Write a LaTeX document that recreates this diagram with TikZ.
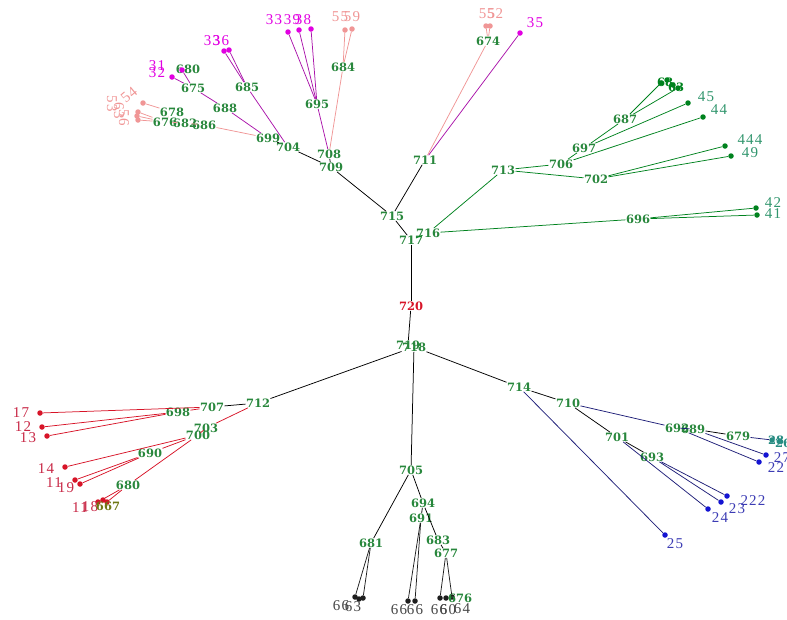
\documentclass[tikz,border=0pt]{standalone}
\usepackage{fontspec}
\setmainfont{Liberation Serif}
\newfontfamily\wideserif[LetterSpace=8]{Liberation Serif}
\newfontfamily\inodefont{DejaVu Serif}
\definecolor{ig}{RGB}{40,135,60}
\definecolor{cred}{RGB}{215,20,40}
\definecolor{credl}{RGB}{200,40,70}
\definecolor{cpink}{RGB}{240,150,150}
\definecolor{cmag}{RGB}{225,0,225}
\definecolor{cmagl}{RGB}{170,20,170}
\definecolor{cgrn}{RGB}{0,130,30}
\definecolor{cgl}{RGB}{50,150,110}
\definecolor{cblue}{RGB}{20,20,210}
\definecolor{cbl}{RGB}{60,60,180}
\definecolor{cbln}{RGB}{30,30,120}
\definecolor{cblk}{RGB}{30,30,30}
\definecolor{cgray}{RGB}{70,70,70}
\definecolor{cteal}{RGB}{40,140,130}
\begin{document}
\begin{tikzpicture}[x=1pt,y=-1pt,
  inode/.style={font=\inodefont\fontsize{11.5}{11.5}\selectfont\bfseries, text=ig, inner sep=0.3pt},
  dot/.style={circle, fill=#1, inner sep=0pt, minimum size=5.5pt},
  lab/.style={font=\wideserif\fontsize{15}{15}\selectfont, text=#1, inner sep=0pt},
  ed/.style={draw=#1, line width=0.75pt}]
\useasboundingbox (0,0) rectangle (787,619);
% ---------- internal nodes ----------
\node[inode] (n720) at (411,306) {\textcolor{cred}{720}};
\node[inode] (n717) at (411,240) {717};
\node[inode] (n716) at (428,233) {716};
\node[inode] (n715) at (392,216) {715};
\node[inode] (n711) at (425,160) {711};
\node[inode] (n674) at (488,41) {674};
\node[inode] (n709) at (331,167) {709};
\node[inode] (n708) at (329,154) {708};
\node[inode] (n704) at (288,147) {704};
\node[inode] (n699) at (268,138) {699};
\node[inode] (n695) at (317,104) {695};
\node[inode] (n684) at (343,67) {684};
\node[inode] (n685) at (247,87) {685};
\node[inode] (n688) at (225,108) {688};
\node[inode] (n675) at (193,88) {675};
\node[inode] (n680t) at (188,69) {680};
\node[inode] (n678) at (172,112) {678};
\node[inode] (n676) at (165,122) {676};
\node[inode] (n682) at (185,123) {682};
\node[inode] (n686) at (204,125) {686};
\node[inode] (n713) at (503,170) {713};
\node[inode] (n706) at (561,164) {706};
\node[inode] (n697) at (584,148) {697};
\node[inode] (n687) at (625,119) {687};
\node[inode] (n702) at (596,179) {702};
\node[inode] (n696) at (638,219) {696};
\node[inode] (n719) at (408,345) {719};
\node[inode] (n718) at (414,347) {718};
\node[inode] (n712) at (258,403) {712};
\node[inode] (n707) at (212,407) {707};
\node[inode] (n698) at (178,412) {698};
\node[inode] (n703) at (206,428) {703};
\node[inode] (n700) at (198,435) {700};
\node[inode] (n690) at (150,453) {690};
\node[inode] (n680) at (128,485) {680};
\node[inode] (n714) at (519,387) {714};
\node[inode] (n710) at (568,403) {710};
\node[inode] (n701) at (617,437) {701};
\node[inode] (n693) at (652,457) {693};
\node[inode] (n692) at (677,428) {692};
\node[inode] (n689) at (693,429) {689};
\node[inode] (n679) at (738,436) {679};
\node[inode] (n705) at (411,470) {705};
\node[inode] (n694) at (423,503) {694};
\node[inode] (n691) at (421,518) {691};
\node[inode] (n683) at (438,540) {683};
\node[inode] (n681) at (371,543) {681};
\node[inode] (n677) at (446,553) {677};
% ---------- leaves: magenta / pink ----------
\node[dot=cmag] (l35) at (520,33) {};
\node[lab=cmag] at (535,23) {35};
\node[dot=cpink] (l55a) at (486,26) {};
\node[dot=cpink] (l52) at (490,26) {};
\node[lab=cpink] at (487,14) {55};
\node[lab=cpink] at (495,14) {52};
\node[dot=cpink] (l55b) at (345,30) {};
\node[dot=cpink] (l59) at (352,29) {};
\node[lab=cpink] at (340,17) {55};
\node[lab=cpink] at (352,17) {59};
\node[dot=cmag] (l33a) at (288,32) {};
\node[dot=cmag] (l39) at (299,30) {};
\node[dot=cmag] (l38) at (311,29) {};
\node[lab=cmag] at (274,20) {33};
\node[lab=cmag] at (292,20) {39};
\node[lab=cmag] at (303,20) {38};
\node[dot=cmag] (l33b) at (224,51) {};
\node[dot=cmag] (l36) at (229,50) {};
\node[lab=cmag] at (212,41) {33};
\node[lab=cmag] at (221,41) {36};
\node[dot=cmag] (l31) at (182,70) {};
\node[dot=cmag] (l32) at (172,77) {};
\node[lab=cmag] at (157,66) {31};
\node[lab=cmag] at (157,73) {32};
\node[dot=cpink] (l54) at (143,103) {};
\node[lab=cpink, rotate=40] at (129,95) {54};
\node[dot=cpink] (l53) at (138,112) {};
\node[dot=cpink] (l63) at (137,116) {};
\node[dot=cpink] (l56) at (138,120) {};
\node[lab=cpink, rotate=-90] at (112,104) {53};
\node[lab=cpink, rotate=-90] at (119,111) {63};
\node[lab=cpink, rotate=-90] at (124,118) {56};
% ---------- leaves: green ----------
\node[dot=cgrn] (l45) at (688,103) {};
\node[lab=cgl] at (706,97) {45};
\node[dot=cgrn] (l44) at (703,117) {};
\node[lab=cgl] at (719,110) {44};
\node[dot=cgrn] (l444) at (725,146) {};
\node[lab=cgl] at (750,140) {444};
\node[dot=cgrn] (l49) at (731,156) {};
\node[lab=cgl] at (750,153) {49};
\node[dot=cgrn] (l42) at (756,208) {};
\node[lab=cgl] at (773,203) {42};
\node[dot=cgrn] (l41) at (757,215) {};
\node[lab=cgl] at (773,214) {41};
\node[dot=cgrn] (g1) at (661,83) {};
\node[dot=cgrn] (g2) at (667,80) {};
\node[dot=cgrn] (g3) at (673,85) {};
\node[dot=cgrn] (g4) at (678,88) {};
\node[inode, text=cgrn] at (665,82) {68};
\node[inode, text=cgrn] at (676,87) {63};
% ---------- leaves: red ----------
\node[dot=cred] (l17) at (40,413) {};
\node[lab=credl] at (21,413) {17};
\node[dot=cred] (l12) at (42,427) {};
\node[lab=credl] at (23,427) {12};
\node[dot=cred] (l13) at (47,436) {};
\node[lab=credl] at (28,438) {13};
\node[dot=cred] (l14) at (65,467) {};
\node[lab=credl] at (46,469) {14};
\node[dot=cred] (l11) at (75,480) {};
\node[dot=cred] (l19) at (80,484) {};
\node[lab=credl] at (54,483) {11};
\node[lab=credl] at (66,488) {19};
\node[dot=cred] (r1) at (98,502) {};
\node[dot=cred] (r2) at (103,500) {};
\node[dot=cred] (r3) at (107,502) {};
\node[lab=credl] at (80,508) {11};
\node[lab=credl] at (90,507) {18};
\node[inode, text={rgb,255:red,110;green,120;blue,20}] at (108,506) {667};
% ---------- leaves: blue ----------
\node[dot=cblue] (l25) at (665,535) {};
\node[lab=cbl] at (675,544) {25};
\node[dot=cblue] (l24) at (708,509) {};
\node[lab=cbl] at (720,518) {24};
\node[dot=cblue] (l23) at (721,502) {};
\node[lab=cbl] at (737,509) {23};
\node[dot=cblue] (l22a) at (727,496) {};
\node[lab=cbl] at (753,501) {222};
\node[dot=cblue] (l27) at (766,455) {};
\node[lab=cbl] at (782,458) {27};
\node[dot=cblue] (l22b) at (759,462) {};
\node[lab=cbl] at (776,468) {22};
\node[dot=cteal] (b1) at (772,440) {};
\node[dot=cteal] (b2) at (780,441) {};
\node[inode, text=cteal] at (776,440) {28};
\node[inode, text=cteal] at (783,443) {26};
% ---------- leaves: black ----------
\node[dot=cblk] (k1) at (355,597) {};
\node[dot=cblk] (k2) at (359,599) {};
\node[dot=cblk] (k3) at (363,598) {};
\node[lab=cgray] at (341,606) {66};
\node[lab=cgray] at (353,607) {63};
\node[dot=cblk] (k4) at (408,601) {};
\node[dot=cblk] (k5) at (415,601) {};
\node[lab=cgray] at (399,610) {66};
\node[lab=cgray] at (415,610) {66};
\node[dot=cblk] (k6) at (440,598) {};
\node[dot=cblk] (k7) at (446,598) {};
\node[dot=cblk] (k8) at (452,597) {};
\node[lab=cgray] at (439,610) {66};
\node[lab=cgray] at (448,610) {60};
\node[lab=cgray] at (462,609) {64};
\node[inode] at (460,598) {676};
% ---------- connectors: backbone ----------
\draw[ed=black] (n717) -- (n715);
\draw[ed=black] (n715) -- (n709);
\draw[ed=black] (n715) -- (n711);
\draw[ed=black] (n709) -- (n708);
\draw[ed=black] (n709) -- (n704);
\draw[ed=black] (n704) -- (n699);
\draw[ed=black] (n717) -- (n720);
\draw[ed=black] (n720) -- (n719);
\draw[ed=black] (n718) -- (n712);
\draw[ed=black] (n718) -- (n714);
\draw[ed=black] (n718) -- (n705);
\draw[ed=black] (n712) -- (n707);
\draw[ed=black] (n714) -- (n710);
\draw[ed=black] (n710) -- (n701);
\draw[ed=black] (n701) -- (n693);
\draw[ed=black] (n689) -- (n679);
\draw[ed=black] (n705) -- (n681);
\draw[ed=black] (n705) -- (n694);
\draw[ed=black] (n694) -- (n691);
\draw[ed=black] (n694) -- (n683);
\draw[ed=black] (n683) -- (n677);
% ---------- magenta / pink ----------
\draw[ed=cmagl] (n711) -- (l35);
\draw[ed=cpink] (n711) -- (n674);
\draw[ed=cpink] (n674) -- (l55a);
\draw[ed=cpink] (n674) -- (l52);
\draw[ed=cmagl] (n708) -- (n695);
\draw[ed=cmagl] (n695) -- (l33a);
\draw[ed=cmagl] (n695) -- (l39);
\draw[ed=cmagl] (n695) -- (l38);
\draw[ed=cpink] (n708) -- (n684);
\draw[ed=cpink] (n684) -- (l55b);
\draw[ed=cpink] (n684) -- (l59);
\draw[ed=cmagl] (n704) -- (n685);
\draw[ed=cmagl] (n685) -- (l33b);
\draw[ed=cmagl] (n685) -- (l36);
\draw[ed=cmagl] (n699) -- (n688);
\draw[ed=cmagl] (n688) -- (n675);
\draw[ed=cmagl] (n675) -- (l31);
\draw[ed=cmagl] (n675) -- (l32);
\draw[ed=cpink] (n699) -- (n686);
\draw[ed=cpink] (n686) -- (n682);
\draw[ed=cpink] (n682) -- (n676);
\draw[ed=cpink] (n676) -- (n678);
\draw[ed=cpink] (n678) -- (l54);
\draw[ed=cpink] (n676) -- (l53);
\draw[ed=cpink] (n676) -- (l63);
\draw[ed=cpink] (n676) -- (l56);
% ---------- green ----------
\draw[ed=cgrn] (n717) -- (n716);
\draw[ed=cgrn] (n716) -- (n713);
\draw[ed=cgrn] (n716) -- (n696);
\draw[ed=cgrn] (n713) -- (n706);
\draw[ed=cgrn] (n713) -- (n702);
\draw[ed=cgrn] (n706) -- (n697);
\draw[ed=cgrn] (n706) -- (l44);
\draw[ed=cgrn] (n697) -- (n687);
\draw[ed=cgrn] (n697) -- (l45);
\draw[ed=cgrn] (n687) -- (g1);
\draw[ed=cgrn] (n687) -- (g4);
\draw[ed=cgrn] (n702) -- (l444);
\draw[ed=cgrn] (n702) -- (l49);
\draw[ed=cgrn] (n696) -- (l42);
\draw[ed=cgrn] (n696) -- (l41);
% ---------- red ----------
\draw[ed=cred] (n707) -- (l17);
\draw[ed=cred] (n707) -- (n698);
\draw[ed=cred] (n698) -- (l12);
\draw[ed=cred] (n698) -- (l13);
\draw[ed=cred] (n712) -- (n703);
\draw[ed=cred] (n703) -- (n700);
\draw[ed=cred] (n700) -- (l14);
\draw[ed=cred] (n700) -- (n690);
\draw[ed=cred] (n690) -- (l11);
\draw[ed=cred] (n690) -- (l19);
\draw[ed=cred] (n700) -- (n680);
\draw[ed=cred] (n680) -- (r1);
\draw[ed=cred] (n680) -- (r3);
% ---------- blue ----------
\draw[ed=cbln] (n714) -- (l25);
\draw[ed=cbln] (n710) -- (n692);
\draw[ed=cbln] (n692) -- (n689);
\draw[ed=cbln] (n689) -- (l27);
\draw[ed=cbln] (n692) -- (l22b);
\draw[ed=cbln] (n701) -- (l24);
\draw[ed=cbln] (n693) -- (l23);
\draw[ed=cbln] (n693) -- (l22a);
\draw[ed=cbln] (n679) -- (b1);
% ---------- black cluster ----------
\draw[ed=cblk] (n681) -- (k1);
\draw[ed=cblk] (n681) -- (k3);
\draw[ed=cblk] (n691) -- (k4);
\draw[ed=cblk] (n691) -- (k5);
\draw[ed=cblk] (n677) -- (k6);
\draw[ed=cblk] (n677) -- (k8);
\end{tikzpicture}
\end{document}
